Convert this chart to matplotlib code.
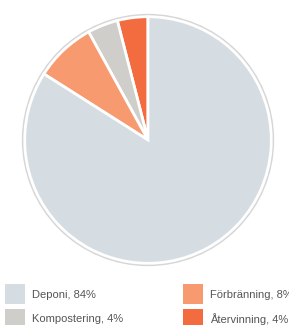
import matplotlib.pyplot as plt
from matplotlib.patches import Circle, Rectangle

# Data
labels = ['Återvinning', 'Kompostering', 'Förbränning', 'Deponi']
values = [4, 4, 8, 84]
colors = ['#f26c40', '#cfcecb', '#f89a70', '#d5dde3']

legend_order = ['Deponi', 'Förbränning', 'Kompostering', 'Återvinning']

W, H = 289, 325
fig = plt.figure(figsize=(W / 100, H / 100), dpi=100)

# Pie
cx, cy, r = 148, 140, 127
ax = fig.add_axes([(cx - r) / W, (H - cy - r) / H, 2 * r / W, 2 * r / H])
ax.add_patch(Circle((0, 0), 1.012, facecolor='none', edgecolor='#d6d6d6', linewidth=2.0, zorder=0))
ax.pie(values, colors=colors, startangle=90, counterclock=True,
       wedgeprops=dict(edgecolor='white', linewidth=2.0))
ax.set_xlim(-1.03, 1.03)
ax.set_ylim(-1.03, 1.03)
ax.set_aspect('equal')
ax.axis('off')

# Legend (pixel coordinates)
lax = fig.add_axes([0, 0, 1, 1])
lax.set_xlim(0, W)
lax.set_ylim(H, 0)
lax.axis('off')
pos = [(5, 284), (183, 284), (5, 309), (183, 309)]
for name, (x, y) in zip(legend_order, pos):
    i = labels.index(name)
    lax.add_patch(Rectangle((x, y), 20, 20, facecolor=colors[i], edgecolor='none'))
    lax.text(x + 27, y + 10.5, f'{name}, {values[i]}%', fontsize=8,
             family='Liberation Sans', color='#555555', va='center', ha='left')

fig.savefig('out.png', dpi=100)
